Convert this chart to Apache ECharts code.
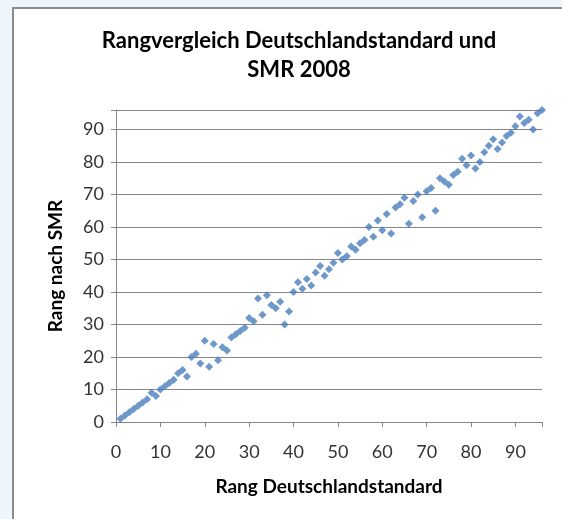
<!DOCTYPE html>
<html>
<head>
<meta charset="utf-8">
<script src="https://cdn.jsdelivr.net/npm/echarts@6/dist/echarts.min.js"></script>
<style>
  html, body { margin: 0; padding: 0; background: #eef6fc; }
  #chart { width: 562px; height: 519px; }
</style>
</head>
<body>
<div id="chart"></div>
<script>
// Rang Deutschlandstandard (x) and Rang nach SMR (y)
const rangDeutschland = [
  1, 2, 3, 4, 5, 6, 7, 8, 9, 10, 11, 12, 13, 14, 15, 16, 17, 18, 19, 20,
  21, 22, 23, 24, 25, 26, 27, 28, 29, 30, 31, 32, 33, 34, 35, 36, 37, 38, 39, 40,
  41, 42, 43, 44, 45, 46, 47, 48, 49, 50, 51, 52, 53, 54, 55, 56, 57, 58, 59, 60,
  61, 62, 63, 64, 65, 66, 67, 68, 69, 70, 71, 72, 73, 74, 75, 76, 77, 78, 79, 80,
  81, 82, 83, 84, 85, 86, 87, 88, 89, 90, 91, 92, 93, 94, 95, 96
];
const rangSMR = [
  1, 2, 3, 4, 5, 6, 7, 9, 8, 10, 11, 12, 13, 15, 16, 14, 20, 21, 18, 25,
  17, 24, 19, 23, 22, 26, 27, 28, 29, 32, 31, 38, 33, 39, 36, 35, 37, 30, 34, 40,
  43, 41, 44, 42, 46, 48, 45, 47, 49, 52, 50, 51, 54, 53, 55, 56, 60, 57, 62, 59,
  64, 58, 66, 67, 69, 61, 68, 70, 63, 71, 72, 65, 75, 74, 73, 76, 77, 81, 79, 82,
  78, 80, 83, 85, 87, 84, 86, 88, 89, 91, 94, 92, 93, 90, 95, 96
];
const axisTicks = [0, 10, 20, 30, 40, 50, 60, 70, 80, 90];

const points = rangDeutschland.map((x, i) => [x, rangSMR[i]]);

const chart = echarts.init(document.getElementById('chart'));
const font = 'Lato, "Open Sans", sans-serif';

chart.setOption({
  animation: false,
  backgroundColor: 'transparent',
  graphic: [{
    type: 'rect',
    left: 12,
    top: 7,
    shape: { width: 620, height: 600 },
    style: { fill: '#ffffff', stroke: '#8c8c8c', lineWidth: 2 },
    z: -10
  }],
  title: {
    text: 'Rangvergleich Deutschlandstandard und\nSMR 2008',
    left: 294,
    textAlign: 'center',
    top: 21,
    textStyle: {
      fontFamily: font,
      fontSize: 22,
      fontWeight: 'bold',
      color: '#000',
      lineHeight: 29
    }
  },
  grid: { left: 116, right: 20, top: 110, bottom: 97 },
  xAxis: {
    type: 'value',
    min: 0,
    max: 96,
    interval: 10,
    name: 'Rang Deutschlandstandard',
    nameLocation: 'middle',
    nameGap: 55,
    nameTextStyle: { fontFamily: font, fontSize: 19, fontWeight: 'bold', color: '#000' },
    axisLine: { show: true, lineStyle: { color: '#868686', width: 1 } },
    axisTick: { show: true, length: 5, lineStyle: { color: '#868686' } },
    axisLabel: {
      fontFamily: font, fontSize: 18, color: '#333', margin: 21,
      formatter: v => axisTicks.includes(v) ? String(v) : ''
    },
    splitLine: { show: false }
  },
  yAxis: {
    type: 'value',
    min: 0,
    max: 96,
    interval: 10,
    name: 'Rang nach SMR',
    nameLocation: 'middle',
    nameGap: 51,
    nameTextStyle: { fontFamily: font, fontSize: 19, fontWeight: 'bold', color: '#000' },
    axisLine: { show: true, lineStyle: { color: '#868686', width: 1 } },
    axisTick: { show: true, length: 5, lineStyle: { color: '#868686' } },
    axisLabel: {
      fontFamily: font, fontSize: 18, color: '#333', margin: 12,
      formatter: v => axisTicks.includes(v) ? String(v) : ''
    },
    splitLine: { show: true, lineStyle: { color: '#868686', width: 1 } }
  },
  series: [{
    type: 'scatter',
    data: points,
    symbol: 'diamond',
    symbolSize: 8,
    itemStyle: { color: '#4a7ebb' }
  }]
});
</script>
</body>
</html>
